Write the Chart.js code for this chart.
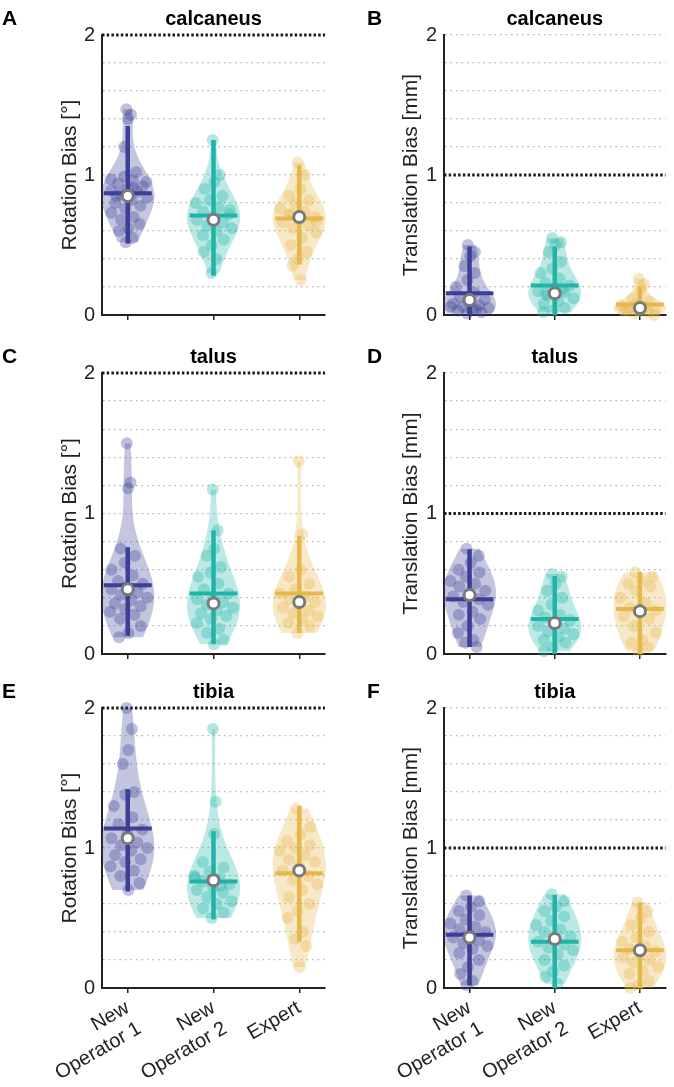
<!DOCTYPE html>
<html>
<head>
<meta charset="utf-8">
<script src="https://cdn.jsdelivr.net/npm/chart.js@4.4.0/dist/chart.umd.min.js"></script>
<style>
  body { margin: 0; background: #fff; }
  #wrap { position: relative; width: 674px; height: 1087px; }
  canvas { position: absolute; }
</style>
</head>
<body>
<div id="wrap"></div>
<script>
const groupLabels = [["New", "Operator 1"], ["New", "Operator 2"], ["Expert"]];
const yTickLabels = [0, 1, 2];

// calcaneus rotation
const calcRotOp1 = [1.47, 1.43, 1.40, 1.20, 1.02, 0.99, 0.97, 0.96, 0.94, 0.92, 0.90, 0.89, 0.88, 0.86, 0.84, 0.82, 0.80, 0.78, 0.76, 0.73, 0.70, 0.68, 0.65, 0.62, 0.60, 0.55, 0.52, 0.95, 0.91, 0.85];
const calcRotOp2 = [1.25, 1.00, 0.95, 0.90, 0.85, 0.82, 0.80, 0.77, 0.74, 0.72, 0.70, 0.68, 0.66, 0.64, 0.62, 0.60, 0.57, 0.54, 0.50, 0.45, 0.40, 0.30, 0.75, 0.69];
const calcRotExp = [1.09, 1.00, 0.90, 0.85, 0.82, 0.79, 0.76, 0.74, 0.72, 0.70, 0.68, 0.66, 0.64, 0.62, 0.59, 0.55, 0.50, 0.45, 0.40, 0.35, 0.25, 0.71, 0.67];
const calcRotMedian = [0.87, 0.71, 0.69];
const calcRotMean = [0.85, 0.68, 0.70];
const calcRotLow = [0.51, 0.28, 0.36];
const calcRotHigh = [1.35, 1.25, 1.07];

// talus rotation
const talRotOp1 = [1.50, 1.22, 1.18, 0.75, 0.70, 0.65, 0.60, 0.56, 0.52, 0.50, 0.48, 0.46, 0.44, 0.42, 0.40, 0.38, 0.36, 0.34, 0.32, 0.30, 0.28, 0.25, 0.20, 0.15, 0.12];
const talRotOp2 = [1.17, 0.88, 0.75, 0.70, 0.62, 0.58, 0.55, 0.50, 0.46, 0.43, 0.41, 0.39, 0.37, 0.35, 0.33, 0.31, 0.29, 0.27, 0.25, 0.22, 0.18, 0.15, 0.10, 0.07];
const talRotExp = [1.37, 0.85, 0.60, 0.55, 0.50, 0.46, 0.43, 0.41, 0.39, 0.37, 0.35, 0.33, 0.31, 0.29, 0.27, 0.25, 0.22, 0.20, 0.15];
const talRotMedian = [0.49, 0.43, 0.43];
const talRotMean = [0.46, 0.36, 0.37];
const talRotLow = [0.13, 0.07, 0.15];
const talRotHigh = [0.76, 0.88, 0.84];

// tibia rotation
const tibRotOp1 = [2.00, 1.85, 1.70, 1.60, 1.40, 1.38, 1.30, 1.22, 1.17, 1.13, 1.10, 1.07, 1.04, 1.02, 1.00, 0.98, 0.95, 0.92, 0.90, 0.87, 0.84, 0.80, 0.75, 0.70];
const tibRotOp2 = [1.85, 1.33, 1.10, 0.90, 0.86, 0.83, 0.80, 0.78, 0.76, 0.74, 0.72, 0.70, 0.68, 0.65, 0.62, 0.60, 0.57, 0.54, 0.50, 0.79, 0.73];
const tibRotExp = [1.28, 1.15, 1.10, 1.05, 1.02, 1.00, 0.98, 0.95, 0.92, 0.90, 0.87, 0.84, 0.80, 0.77, 0.74, 0.70, 0.65, 0.60, 0.55, 0.50, 0.40, 0.35, 0.30, 0.15];
const tibRotMedian = [1.14, 0.76, 0.82];
const tibRotMean = [1.07, 0.77, 0.84];
const tibRotLow = [0.69, 0.49, 0.33];
const tibRotHigh = [1.42, 1.12, 1.30];

// calcaneus translation
const calcTraOp1 = [0.50, 0.45, 0.42, 0.35, 0.30, 0.25, 0.20, 0.16, 0.13, 0.11, 0.09, 0.08, 0.07, 0.06, 0.05, 0.04, 0.03, 0.02, 0.01, 0.06, 0.04];
const calcTraOp2 = [0.55, 0.52, 0.50, 0.45, 0.38, 0.33, 0.30, 0.26, 0.23, 0.21, 0.19, 0.17, 0.16, 0.14, 0.12, 0.10, 0.08, 0.05, 0.03, 0.02, 0.18, 0.15];
const calcTraExp = [0.26, 0.22, 0.18, 0.12, 0.10, 0.08, 0.07, 0.06, 0.05, 0.04, 0.03, 0.03, 0.02, 0.01, 0.00, 0.05, 0.04];
const calcTraMedian = [0.155, 0.21, 0.075];
const calcTraMean = [0.107, 0.155, 0.05];
const calcTraLow = [0.0, 0.0, 0.0];
const calcTraHigh = [0.49, 0.49, 0.20];

// talus translation
const talTraOp1 = [0.75, 0.70, 0.65, 0.60, 0.58, 0.55, 0.52, 0.50, 0.48, 0.45, 0.43, 0.41, 0.39, 0.37, 0.35, 0.30, 0.28, 0.25, 0.20, 0.15, 0.10, 0.08, 0.05];
const talTraOp2 = [0.57, 0.55, 0.50, 0.45, 0.40, 0.35, 0.31, 0.28, 0.26, 0.24, 0.22, 0.20, 0.18, 0.16, 0.14, 0.12, 0.10, 0.08, 0.05, 0.02];
const talTraExp = [0.58, 0.55, 0.52, 0.50, 0.48, 0.45, 0.40, 0.36, 0.33, 0.31, 0.29, 0.27, 0.25, 0.20, 0.15, 0.10, 0.08, 0.05, 0.02];
const talTraMedian = [0.39, 0.25, 0.32];
const talTraMean = [0.42, 0.22, 0.305];
const talTraLow = [0.05, 0.0, 0.0];
const talTraHigh = [0.745, 0.555, 0.585];

// tibia translation
const tibTraOp1 = [0.66, 0.62, 0.58, 0.55, 0.52, 0.49, 0.46, 0.44, 0.42, 0.40, 0.38, 0.36, 0.34, 0.32, 0.30, 0.28, 0.25, 0.20, 0.15, 0.10, 0.05, 0.02];
const tibTraOp2 = [0.67, 0.62, 0.58, 0.55, 0.51, 0.48, 0.45, 0.42, 0.40, 0.37, 0.35, 0.33, 0.31, 0.29, 0.27, 0.24, 0.20, 0.16, 0.12, 0.08, 0.03];
const tibTraExp = [0.61, 0.55, 0.50, 0.45, 0.40, 0.36, 0.33, 0.30, 0.28, 0.26, 0.24, 0.22, 0.20, 0.18, 0.15, 0.12, 0.10, 0.05, 0.02, 0.00];
const tibTraMedian = [0.38, 0.33, 0.27];
const tibTraMean = [0.36, 0.35, 0.27];
const tibTraLow = [0.02, 0.0, 0.0];
const tibTraHigh = [0.66, 0.665, 0.61];

const colors = ["59,63,150", "33,179,168", "230,183,74"];

const panels = [
  { letter: "A", title: "calcaneus", col: 0, row: 0, thr: 2, yTitle: "Rotation Bias [°]", pts: [calcRotOp1, calcRotOp2, calcRotExp], med: calcRotMedian, mean: calcRotMean, lo: calcRotLow, hi: calcRotHigh },
  { letter: "B", title: "calcaneus", col: 1, row: 0, thr: 1, yTitle: "Translation Bias [mm]", pts: [calcTraOp1, calcTraOp2, calcTraExp], med: calcTraMedian, mean: calcTraMean, lo: calcTraLow, hi: calcTraHigh },
  { letter: "C", title: "talus", col: 0, row: 1, thr: 2, yTitle: "Rotation Bias [°]", pts: [talRotOp1, talRotOp2, talRotExp], med: talRotMedian, mean: talRotMean, lo: talRotLow, hi: talRotHigh },
  { letter: "D", title: "talus", col: 1, row: 1, thr: 1, yTitle: "Translation Bias [mm]", pts: [talTraOp1, talTraOp2, talTraExp], med: talTraMedian, mean: talTraMean, lo: talTraLow, hi: talTraHigh },
  { letter: "E", title: "tibia", col: 0, row: 2, thr: 2, yTitle: "Rotation Bias [°]", pts: [tibRotOp1, tibRotOp2, tibRotExp], med: tibRotMedian, mean: tibRotMean, lo: tibRotLow, hi: tibRotHigh },
  { letter: "F", title: "tibia", col: 1, row: 2, thr: 1, yTitle: "Translation Bias [mm]", pts: [tibTraOp1, tibTraOp2, tibTraExp], med: tibTraMedian, mean: tibTraMean, lo: tibTraLow, hi: tibTraHigh }
];

const rowTop = [0, 340, 675];
const rowH = [340, 335, 412];
const rowPadTop = [35, 33, 33];
const rowXH = [25, 21, 99];
const FONT = "'Liberation Sans', Arial, sans-serif";
const MAXW = 0.31;

// kernel density shape of a group, scaled to a half width in x units
function violinProfile(vals) {
  const n = vals.length;
  const m = vals.reduce((a, b) => a + b, 0) / n;
  const sd = Math.sqrt(vals.reduce((a, b) => a + (b - m) * (b - m), 0) / n);
  const h = 1.25 * sd * Math.pow(n, -0.2);
  const lo = Math.min(...vals), hi = Math.max(...vals);
  const dens = y => vals.reduce((a, v) => a + Math.exp(-0.5 * ((y - v) / h) ** 2), 0);
  const prof = [];
  for (let i = 0; i <= 60; i++) {
    const y = lo + (hi - lo) * i / 60;
    prof.push({ y, d: dens(y) });
  }
  const mx = Math.max(...prof.map(p => p.d));
  prof.forEach(p => p.w = p.d / mx * MAXW);
  return { prof, width: y => dens(y) / mx * MAXW };
}

const violinPlugin = {
  id: "violins",
  beforeDatasetsDraw(chart) {
    const p = chart.options.plugins.violins;
    const xs = chart.scales.x, ys = chart.scales.y, ctx = chart.ctx;
    p.profiles.forEach((v, g) => {
      ctx.save();
      ctx.beginPath();
      v.prof.forEach((pt, i) => {
        const px = xs.getPixelForValue(g + 1 - pt.w), py = ys.getPixelForValue(pt.y);
        i ? ctx.lineTo(px, py) : ctx.moveTo(px, py);
      });
      for (let i = v.prof.length - 1; i >= 0; i--) {
        const pt = v.prof[i];
        ctx.lineTo(xs.getPixelForValue(g + 1 + pt.w), ys.getPixelForValue(pt.y));
      }
      ctx.closePath();
      ctx.fillStyle = "rgba(" + colors[g] + ",0.3)";
      ctx.fill();
      ctx.restore();
    });
  },
  afterDraw(chart) {
    const p = chart.options.plugins.violins;
    const ctx = chart.ctx, a = chart.chartArea;
    ctx.save();
    ctx.fillStyle = "#000";
    ctx.textBaseline = "middle";
    ctx.font = "bold 20px " + FONT;
    ctx.textAlign = "center";
    ctx.fillText(p.title, (a.left + a.right) / 2, a.top - 16);
    ctx.font = "bold 21px " + FONT;
    ctx.textAlign = "left";
    ctx.fillText(p.letter, p.letterX, a.top - 16);
    ctx.restore();
  }
};

const wrap = document.getElementById("wrap");

panels.forEach(pn => {
  const cv = document.createElement("canvas");
  const W = 337, H = rowH[pn.row];
  cv.style.left = (pn.col * 337) + "px";
  cv.style.top = rowTop[pn.row] + "px";
  cv.width = W;
  cv.height = H;
  wrap.appendChild(cv);

  const profiles = pn.pts.map(violinProfile);
  const datasets = [];
  // mean markers (top)
  pn.mean.forEach((v, g) => datasets.push({
    type: "scatter", data: [{ x: g + 1, y: v }], pointRadius: 5.5, pointBackgroundColor: "#fff",
    pointBorderColor: "#7a7a7a", pointBorderWidth: 3, clip: false
  }));
  // median bars
  pn.med.forEach((v, g) => datasets.push({
    type: "line", data: [{ x: g + 0.72, y: v }, { x: g + 1.28, y: v }], borderColor: "rgb(" + colors[g] + ")",
    borderWidth: 4, pointRadius: 0, borderCapStyle: "butt"
  }));
  // whiskers
  pn.lo.forEach((v, g) => datasets.push({
    type: "line", data: [{ x: g + 1, y: v }, { x: g + 1, y: pn.hi[g] }], borderColor: "rgb(" + colors[g] + ")",
    borderWidth: 4.5, pointRadius: 0, borderCapStyle: "butt"
  }));
  // individual points, spread inside the violin
  pn.pts.forEach((vals, g) => datasets.push({
    type: "scatter",
    data: vals.map((v, i) => {
      const j = ((i * 0.618034 + 0.31) % 1) * 2 - 1;
      return { x: g + 1 + j * profiles[g].width(v) * 0.8, y: v };
    }),
    pointRadius: 6, pointBackgroundColor: "rgba(" + colors[g] + ",0.33)", pointBorderWidth: 0, clip: false
  }));
  // threshold line
  datasets.push({
    type: "line", data: [{ x: 0.7, y: pn.thr }, { x: 3.3, y: pn.thr }], borderColor: "#1a1a1a",
    borderWidth: 3.2, borderDash: [2.5, 2.2], pointRadius: 0, clip: false
  });

  const lastRow = pn.row === 2;
  new Chart(cv, {
    type: "scatter",
    data: { datasets },
    plugins: [violinPlugin],
    options: {
      responsive: false,
      animation: false,
      devicePixelRatio: 1,
      layout: { padding: { top: rowPadTop[pn.row], bottom: 0, left: pn.col ? 58 : 54, right: pn.col ? 2 : 12 } },
      plugins: {
        legend: { display: false },
        tooltip: { enabled: false },
        violins: { profiles, title: pn.title, letter: pn.letter, letterX: pn.col ? 30 : 2 }
      },
      scales: {
        x: {
          type: "linear", min: 0.7, max: 3.3,
          afterBuildTicks: s => { s.ticks = [1, 2, 3].map(v => ({ value: v })); },
          afterFit: s => { s.height = rowXH[pn.row]; },
          border: { display: true, color: "#222", width: 2 },
          grid: { display: true, drawOnChartArea: false, drawTicks: true, tickLength: 5, color: "#222", lineWidth: 1.5 },
          ticks: {
            display: lastRow, autoSkip: false, maxRotation: 30, minRotation: 30,
            font: { family: FONT, size: 20 }, color: "#222",
            callback: v => groupLabels[Math.round(v) - 1]
          }
        },
        y: {
          min: 0, max: 2,
          afterBuildTicks: s => {
            const t = [];
            for (let i = 0; i <= 10; i++) t.push({ value: i / 5 });
            s.ticks = t;
          },
          afterFit: s => { s.width = pn.col ? 49 : 48; },
          border: { display: true, color: "#222", width: 2, dash: [1.5, 4] },
          grid: {
            drawTicks: false, lineWidth: 1.3,
            color: c => (c.tick && (Math.abs(c.tick.value - pn.thr) < 1e-6 || c.tick.value === 0)) ? "rgba(0,0,0,0)" : "#b0b0b0"
          },
          ticks: {
            padding: 7, font: { family: FONT, size: 20 }, color: "#222",
            callback: v => yTickLabels.includes(Math.round(v * 100) / 100) ? String(Math.round(v)) : ""
          },
          title: { display: true, text: pn.yTitle, font: { family: FONT, size: 21 }, color: "#222", padding: { bottom: 2 } }
        }
      }
    }
  });
});
</script>
</body>
</html>
